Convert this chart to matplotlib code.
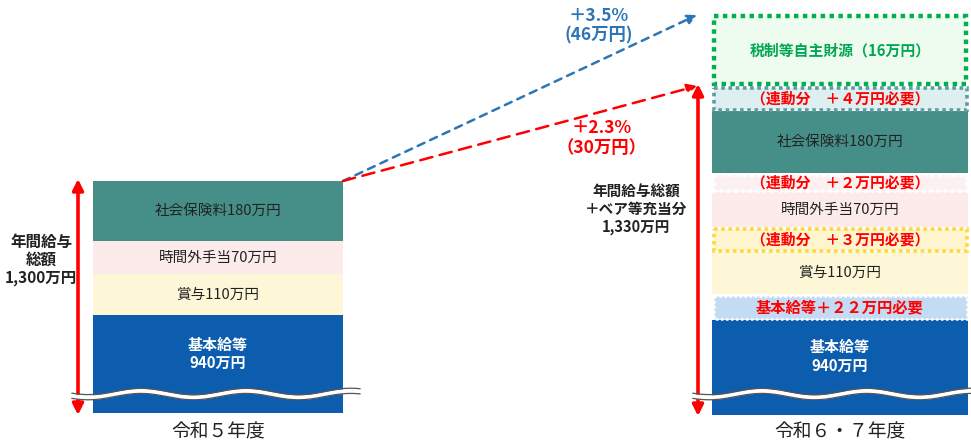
import numpy as np
import matplotlib
matplotlib.use('Agg')
import matplotlib.pyplot as plt
from matplotlib.patches import Rectangle

plt.rcParams['font.family'] = ['Noto Sans CJK JP', 'DejaVu Sans']

# データ
years = ['令和５年度', '令和６・７年度']
items = ['基本給等', '賞与', '時間外手当', '社会保険料']
values_r5 = [940, 110, 70, 180]          # 万円
needed_add = [22, 3, 2, 4]               # 連動で必要な増加分 (万円)
own_funds = 16                           # 税制等自主財源 (万円)
total_r5 = 1300
total_r6 = 1330
rate_hi, add_hi = 3.5, 46
rate_lo, add_lo = 2.3, 30

# 描画レイアウト (ピクセル座標, 模式図なので値とは比例しない)
seg_h = [98, 41, 33, 60]        # 左の各帯の高さ
seg_h_r = [95, 42, 35, 62]      # 右の各帯の高さ
add_h = [26, 25, 19, 25]        # 右の追加分の帯
own_h = 72
colors = ['#0D5DAE', '#FEF7D7', '#FDEBEC', '#458F88']
add_face = ['#C3DCF3', '#FEF5CF', '#FDF0F1', '#DDEFF0']
add_edge = ['white', '#FFD83A', 'white', '#5E9CA0']
txt_dark = '#222222'
RED = '#FF0000'
BLUE = '#2E75B6'
GREEN = '#00A651'

ZEN = str.maketrans('0123456789', '０１２３４５６７８９')

fig = plt.figure(figsize=(9.71, 4.43), dpi=100)
ax = fig.add_axes([0, 0, 1, 1])
ax.set_xlim(0, 971)
ax.set_ylim(443, 0)
ax.axis('off')


def seg_label(i, val, x, y):
    if i == 0:
        ax.text(x, y, f'{items[i]}\n{val}万円', ha='center', va='center',
                color='white', fontsize=10.8, fontweight='bold', linespacing=1.2)
    else:
        ax.text(x, y, f'{items[i]}{val}万円', ha='center', va='center',
                color=txt_dark, fontsize=10.5)


def wave(x0, x1, y0):
    xs = np.linspace(x0, x1, 300)
    ys = y0 + 3.2 * np.sin(2 * np.pi * (xs - x0) / 105 + 0.6)
    ax.fill_between(xs, ys - 2.3, ys + 2.3, color='white', zorder=5, lw=0)
    ax.plot(xs, ys - 2.6, color='#555555', lw=0.9, zorder=6)
    ax.plot(xs, ys + 2.6, color='#555555', lw=0.9, zorder=6)


# 左の棒 (令和5年度)
lx0, lw_ = 93, 250
bottom = 413
for i, (h, v) in enumerate(zip(seg_h, values_r5)):
    ax.bar(lx0, -h, width=lw_, bottom=bottom, align='edge', color=colors[i], lw=0)
    cy = bottom - h / 2 - (10 if i == 0 else 0)
    seg_label(i, v, lx0 + lw_ / 2, cy)
    bottom -= h
left_top = bottom
wave(72, 360, 394)

# 右の棒 (令和6・7年度)
rx0, rw = 712, 256
bottom = 415
for i, (h, v) in enumerate(zip(seg_h_r, values_r5)):
    ax.bar(rx0, -h, width=rw, bottom=bottom, align='edge', color=colors[i], lw=0)
    cy = bottom - h / 2 - (11 if i == 0 else 0)
    seg_label(i, v, rx0 + rw / 2, cy)
    bottom -= h
    ah = add_h[i]
    ax.add_patch(Rectangle((rx0 + 1.5, bottom - ah + 1.5), rw - 3, ah - 3,
                           facecolor=add_face[i], edgecolor=add_edge[i],
                           lw=2.6 if i else 1.8, linestyle=(0, (1, 1)), zorder=3))
    n = str(needed_add[i]).translate(ZEN)
    if i == 0:
        lab = f'{items[0]}＋{n}万円必要'
        fs = 11
    else:
        lab = f'（連動分　＋{n}万円必要）'
        fs = 10.7
    ax.text(rx0 + rw / 2, bottom - ah / 2, lab, ha='center', va='center',
            color=RED, fontsize=fs, fontweight='bold', zorder=4)
    bottom -= ah
ax.add_patch(Rectangle((rx0 + 2, bottom - own_h + 2), rw - 4, own_h - 4,
                       facecolor='#EEFBEF', edgecolor='#00B050', lw=3.2,
                       linestyle=(0, (1, 1)), zorder=3))
ax.text(rx0 + rw / 2, bottom - own_h / 2 + 1, f'税制等自主財源（{own_funds}万円）',
        ha='center', va='center', color=GREEN, fontsize=10.7, fontweight='bold', zorder=4)
wave(693, 971, 394)

# 縦の両矢印
ax.annotate('', xy=(78, left_top - 2), xytext=(78, 415),
            arrowprops=dict(arrowstyle='<|-|>', color=RED, lw=2.6,
                            mutation_scale=16, shrinkA=0, shrinkB=0))
ax.annotate('', xy=(698, 84), xytext=(698, 416),
            arrowprops=dict(arrowstyle='<|-|>', color=RED, lw=2.6,
                            mutation_scale=16, shrinkA=0, shrinkB=0))

ax.text(41, 260, f'年間給与\n総額\n{total_r5:,}万円', ha='center', va='center',
        fontsize=11.2, fontweight='bold', color=txt_dark, linespacing=1.15)
ax.text(636, 209, f'年間給与総額\n＋ベア等充当分\n{total_r6:,}万円', ha='center', va='center',
        fontsize=10.5, fontweight='bold', color=txt_dark, linespacing=1.15)

# 伸び率の破線矢印
ax.annotate('', xy=(697, 15), xytext=(343, 181),
            arrowprops=dict(arrowstyle='-|>', color=BLUE, lw=1.8, linestyle=(0, (3, 2.5)),
                            mutation_scale=14, shrinkA=0, shrinkB=0))
ax.annotate('', xy=(697, 86), xytext=(343, 181),
            arrowprops=dict(arrowstyle='-|>', color=RED, lw=1.8, linestyle=(0, (5, 3)),
                            mutation_scale=14, shrinkA=0, shrinkB=0))
ax.text(599, 26, f'＋{rate_hi}%\n({add_hi}万円)', ha='center', va='center',
        color=BLUE, fontsize=12.5, fontweight='bold', linespacing=1.1)
ax.text(602, 138, f'＋{rate_lo}%\n（{add_lo}万円）', ha='center', va='center',
        color=RED, fontsize=12.5, fontweight='bold', linespacing=1.1)

# 年度ラベル
ax.text(lx0 + lw_ / 2, 432, years[0], ha='center', va='center', fontsize=13.5, color=txt_dark)
ax.text(rx0 + rw / 2, 432, years[1], ha='center', va='center', fontsize=13.5, color=txt_dark)

fig.savefig('out.png', dpi=100)
